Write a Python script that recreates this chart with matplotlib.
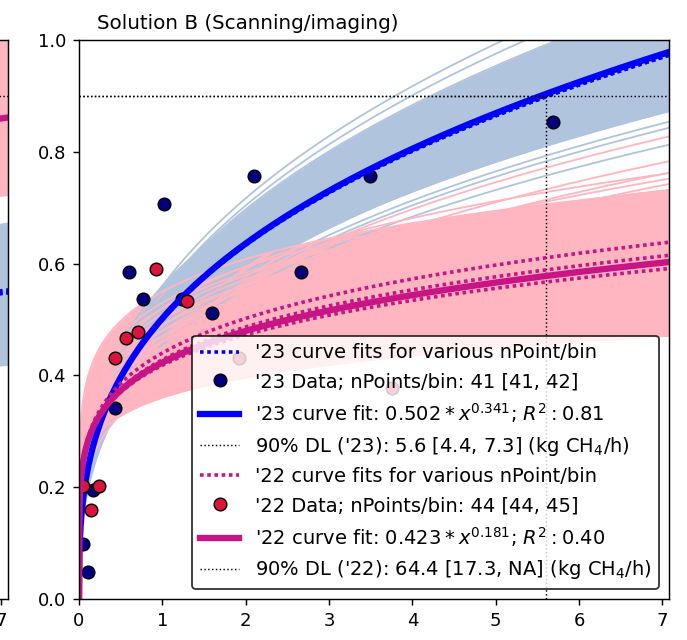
import matplotlib
matplotlib.use('Agg')
import matplotlib.pyplot as plt
import numpy as np

# detection probability vs emission rate, power-law fits y = a * x**b

# Solution B, 2023 campaign (41 points per bin)
x23 = [0.05, 0.11, 0.17, 0.43, 0.60, 0.77, 1.02, 1.24, 1.60, 2.10, 2.66, 3.49, 5.69]
y23 = [0.098, 0.049, 0.195, 0.341, 0.585, 0.537, 0.707, 0.537, 0.512, 0.756, 0.585, 0.756, 0.854]
fit23 = (0.502, 0.341)
r2_23 = 0.81
dl23 = 5.6
dl23_ci = (4.4, 7.3)
# fits for other nPoints/bin
alt23 = [(0.500, 0.340), (0.501, 0.339), (0.502, 0.339)]
# bootstrap fits (bulk, then the outliers)
boot_a23 = [0.47, 0.48, 0.49, 0.50, 0.51, 0.52, 0.53, 0.54, 0.55, 0.46, 0.47, 0.48, 0.49,
            0.50, 0.51, 0.52, 0.53, 0.45, 0.46, 0.47, 0.48, 0.49, 0.50, 0.52, 0.53, 0.54,
            0.55, 0.56, 0.51, 0.50, 0.51, 0.52, 0.49, 0.48, 0.53, 0.54, 0.47, 0.46, 0.55,
            0.505, 0.495, 0.515, 0.485, 0.525, 0.535, 0.475]
boot_b23 = [0.316, 0.317, 0.318, 0.319, 0.320, 0.320, 0.321, 0.322, 0.322, 0.345, 0.351,
            0.356, 0.356, 0.356, 0.356, 0.356, 0.356, 0.373, 0.378, 0.383, 0.387, 0.392,
            0.391, 0.288, 0.289, 0.290, 0.292, 0.293, 0.280, 0.335, 0.341, 0.341, 0.335,
            0.334, 0.336, 0.342, 0.362, 0.333, 0.342, 0.291, 0.290, 0.333, 0.359, 0.307,
            0.344, 0.331]
tail_a23 = [0.45, 0.455, 0.46, 0.55, 0.56]
tail_b23 = [0.302, 0.315, 0.316, 0.356, 0.356]

# Solution B, 2022 campaign (44 points per bin)
x22 = [0.05, 0.14, 0.24, 0.43, 0.56, 0.71, 0.92, 1.30, 1.92, 3.76]
y22 = [0.202, 0.160, 0.202, 0.432, 0.467, 0.477, 0.591, 0.533, 0.432, 0.378]
fit22 = (0.423, 0.181)
r2_22 = 0.40
dl22 = 64.4
dl22_ci = (17.3, 'NA')
alt22 = [(0.440, 0.190), (0.428, 0.185), (0.418, 0.177)]
boot_a22 = [0.36, 0.37, 0.38, 0.38, 0.39, 0.39, 0.40, 0.40, 0.40, 0.41, 0.41, 0.42, 0.42,
            0.42, 0.43, 0.43, 0.43, 0.44, 0.44, 0.44, 0.45, 0.45, 0.45, 0.46, 0.46, 0.46,
            0.47, 0.47, 0.47, 0.48, 0.48, 0.48, 0.49, 0.49, 0.50, 0.50, 0.51, 0.52, 0.53,
            0.55]
boot_b22 = [0.137, 0.144, 0.161, 0.120, 0.177, 0.128, 0.182, 0.135, 0.094, 0.187, 0.142,
            0.192, 0.148, 0.090, 0.196, 0.154, 0.107, 0.201, 0.159, 0.115, 0.205, 0.165,
            0.121, 0.208, 0.170, 0.128, 0.205, 0.174, 0.134, 0.201, 0.171, 0.140, 0.198,
            0.168, 0.194, 0.166, 0.184, 0.167, 0.165, 0.145]
tail_a22 = [0.46, 0.45, 0.44, 0.47, 0.43, 0.41, 0.52, 0.39]
tail_b22 = [0.300, 0.283, 0.281, 0.240, 0.279, 0.245, 0.195, 0.238]

# Solution A (neighbouring panel), only its right end shows
fitA23 = (0.36, 0.218)
fitA22 = (0.62, 0.168)
altA23 = [(0.355, 0.222), (0.365, 0.212), (0.352, 0.226)]
bootA23_a = [0.30, 0.32, 0.34, 0.36, 0.38, 0.40, 0.42]
bootA23_b = [0.17, 0.19, 0.21, 0.23, 0.24]
bootA22_a = [0.56, 0.58, 0.60, 0.625, 0.65, 0.675, 0.70]
bootA22_b = [0.13, 0.15, 0.17, 0.18, 0.20]

c23 = 'blue'
c22 = 'mediumvioletred'
fan23 = 'lightsteelblue'
fan22 = 'lightpink'

xx = np.linspace(0, 7.5, 1500)


def power(a, b):
    return a * xx ** b


def fan(axis, amps, exps, color, tails=((), ())):
    curves = np.array([power(a, b) for a, b in zip(amps, exps)])
    axis.fill_between(xx, curves.min(axis=0), curves.max(axis=0), color=color, lw=0)
    for c in curves:
        axis.plot(xx, c, color=color, lw=1)
    for a, b in zip(*tails):
        axis.plot(xx, power(a, b), color=color, lw=1)


fig = plt.figure(figsize=(687 / 130, 640 / 130), dpi=130)
ax0 = fig.add_axes([(8 - 590) / 687, 41 / 640, 590 / 687, 559 / 640])
ax = fig.add_axes([79 / 687, 41 / 640, 590 / 687, 559 / 640])

# left panel
grid_a, grid_b = np.meshgrid(bootA23_a, bootA23_b)
fan(ax0, grid_a.ravel(), grid_b.ravel(), fan23)
grid_a, grid_b = np.meshgrid(bootA22_a, bootA22_b)
fan(ax0, grid_a.ravel(), grid_b.ravel(), fan22)
for a, b in altA23:
    ax0.plot(xx, power(a, b), color=c23, lw=2, linestyle=(0, (1, 1)))
ax0.plot(xx, power(*fitA22), color=c22, lw=3.5)
ax0.axhline(0.9, color='k', lw=0.8, linestyle=':')
ax0.set_xlim(0, 7.08)
ax0.set_ylim(0, 1)

# right panel: bootstrap fans first
fan(ax, boot_a23, boot_b23, fan23, (tail_a23, tail_b23))
fan(ax, boot_a22, boot_b22, fan22, (tail_a22, tail_b22))

# 2023
for i, (a, b) in enumerate(alt23):
    ax.plot(xx, power(a, b), color=c23, lw=2, linestyle=(0, (1, 1)),
            label="'23 curve fits for various nPoint/bin" if i == 0 else None)
ax.plot(x23, y23, 'o', color='navy', mec='k', ms=7, mew=0.8,
        label="'23 Data; nPoints/bin: 41 [41, 42]")
ax.plot(xx, power(*fit23), color=c23, lw=3.5,
        label="'23 curve fit: $%.3f*x^{%.3f}$; $R^2: %.2f$" % (fit23[0], fit23[1], r2_23))
ax.plot([0, dl23, dl23], [0.9, 0.9, 0], color='k', lw=0.8, linestyle=':',
        label="90%% DL ('23): %.1f [%.1f, %.1f] (kg CH$_4$/h)" % (dl23, dl23_ci[0], dl23_ci[1]))

# 2022
for i, (a, b) in enumerate(alt22):
    ax.plot(xx, power(a, b), color=c22, lw=2, linestyle=(0, (1, 1)),
            label="'22 curve fits for various nPoint/bin" if i == 0 else None)
ax.plot(x22, y22, 'o', color='crimson', mec='k', ms=7, mew=0.8,
        label="'22 Data; nPoints/bin: 44 [44, 45]")
ax.plot(xx, power(*fit22), color=c22, lw=3.5,
        label="'22 curve fit: $%.3f*x^{%.3f}$; $R^2: %.2f$" % (fit22[0], fit22[1], r2_22))
ax.plot([0, dl22, dl22], [0.9, 0.9, 0], color='k', lw=0.8, linestyle=':',
        label="90%% DL ('22): %.1f [%.1f, %s] (kg CH$_4$/h)" % (dl22, dl22_ci[0], dl22_ci[1]))

ax.set_xlim(0, 7.08)
ax.set_ylim(0, 1)
ax.set_title('Solution B (Scanning/imaging)', loc='left', x=0.03, fontsize=11)
leg = ax.legend(loc='lower right', edgecolor='k', fontsize=10.8)

fig.savefig('out.png', dpi=130)
